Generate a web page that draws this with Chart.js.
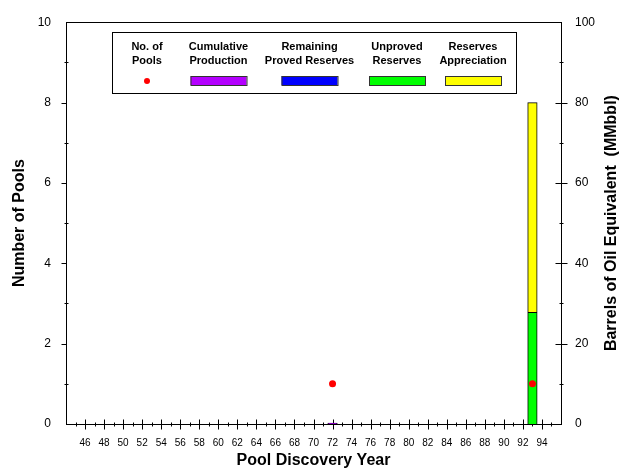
<!DOCTYPE html>
<html>
<head>
<meta charset="utf-8">
<script src="https://cdn.jsdelivr.net/npm/chart.js@4/dist/chart.umd.min.js"></script>
<style>
  html, body { margin: 0; padding: 0; background: #fff; }
  #wrap { width: 619px; height: 469px; }
</style>
</head>
<body>
<div id="wrap"><canvas id="myChart" width="619" height="469"></canvas></div>
<script>
// discovery years that have something in them
const years = [72, 93];
// number of pools (left axis)
const pools = [1, 1];
// MMbbl, stacked (right axis)
const cumulativeProduction = [0.2, null];
const remainingProved = [null, null];
const unprovedReserves = [null, 27.8];
const reservesAppreciation = [null, 52.2];

const xTickLabels = [46, 48, 50, 52, 54, 56, 58, 60, 62, 64, 66, 68, 70, 72, 74, 76, 78, 80, 82, 84, 86, 88, 90, 92, 94];
const leftTickLabels = [0, 2, 4, 6, 8, 10];
const rightTickLabels = [0, 20, 40, 60, 80, 100];

const FONT = "'Liberation Sans', Arial, sans-serif";
const toPoints = arr => years.map((yr, i) => ({ x: yr, y: arr[i] }));

// frame + tick marks that cross the axis lines
const framePlugin = {
  id: "frame",
  beforeDatasetsDraw(chart) {
    const { ctx, chartArea: a, scales } = chart;
    ctx.save();
    ctx.strokeStyle = "#000";
    ctx.lineWidth = 1;
    ctx.strokeRect(Math.round(a.left) + 0.5, Math.round(a.top) + 0.5,
      Math.round(a.right - a.left), Math.round(a.bottom - a.top));
    ctx.beginPath();
    const by = Math.round(a.bottom) + 0.5;
    for (let yr = 45; yr <= 95; yr++) {
      const px = Math.round(scales.x.getPixelForValue(yr)) + 0.5;
      const len = yr % 2 === 0 ? 5 : 2;
      ctx.moveTo(px, by - len);
      ctx.lineTo(px, by + len);
    }
    const lx = Math.round(a.left) + 0.5;
    for (let v = 1; v < 10; v++) {
      const py = Math.round(scales.y.getPixelForValue(v)) + 0.5;
      if (v % 2 === 0) { ctx.moveTo(lx - 5, py); ctx.lineTo(lx, py); }
      else { ctx.moveTo(lx - 2, py); ctx.lineTo(lx + 2, py); }
    }
    const rx = Math.round(a.right) + 0.5;
    for (let v = 10; v < 100; v += 10) {
      const py = Math.round(scales.y1.getPixelForValue(v)) + 0.5;
      const len = v % 20 === 0 ? 6 : 2;
      ctx.moveTo(rx - len, py);
      ctx.lineTo(rx + len, py);
    }
    ctx.stroke();
    ctx.restore();
  },
  // right axis title reads bottom-to-top in the original
  afterDraw(chart) {
    const { ctx, chartArea: a } = chart;
    const t = chart.options.scales.y1.title;
    ctx.save();
    ctx.translate(612, (a.top + a.bottom) / 2);
    ctx.rotate(-Math.PI / 2);
    ctx.font = "bold 16px " + FONT;
    ctx.fillStyle = "#000";
    ctx.textAlign = "center";
    ctx.textBaseline = "middle";
    ctx.fillText(t.text, 0, 0);
    ctx.restore();
  }
};

// boxed legend with two-line labels
const legendPlugin = {
  id: "boxLegend",
  afterDraw(chart) {
    const ctx = chart.ctx;
    const centers = [147, 218.5, 309.5, 397, 473];
    ctx.save();
    ctx.fillStyle = "#fff";
    ctx.fillRect(112.5, 32.5, 404, 61);
    ctx.strokeStyle = "#000";
    ctx.lineWidth = 1;
    ctx.strokeRect(112.5, 32.5, 404, 61);
    ctx.font = "bold 11px " + FONT;
    ctx.textAlign = "center";
    ctx.textBaseline = "middle";
    chart.data.datasets.forEach((ds, i) => {
      const cx = centers[i];
      ctx.fillStyle = "#000";
      ds.label.forEach((line, j) => ctx.fillText(line, cx, 47 + j * 14));
      if (ds.type === "line") {
        ctx.fillStyle = ds.pointBackgroundColor;
        ctx.beginPath();
        ctx.arc(cx, 81, 3, 0, Math.PI * 2);
        ctx.fill();
      } else {
        ctx.fillStyle = ds.backgroundColor;
        ctx.fillRect(cx - 28, 76, 56, 9);
        ctx.strokeStyle = "#333";
        ctx.strokeRect(cx - 28 + 0.5, 76.5, 56, 9);
      }
    });
    ctx.restore();
  }
};

const barDs = (label, data, color) => ({
  type: "bar",
  label: label,
  data: toPoints(data),
  yAxisID: "y1",
  backgroundColor: color,
  borderColor: "#000",
  borderWidth: 1,
  barThickness: 9.5,
  order: 1
});

let ctx = document.getElementById("myChart");
let myChart = new Chart(ctx, {
  data: {
    datasets: [
      {
        type: "line",
        label: ["No. of", "Pools"],
        data: toPoints(pools),
        yAxisID: "y",
        showLine: false,
        pointRadius: 3.5,
        pointBackgroundColor: "#ff0000",
        pointBorderColor: "#ff0000",
        pointBorderWidth: 0,
        order: 0
      },
      barDs(["Cumulative", "Production"], cumulativeProduction, "#b400ff"),
      barDs(["Remaining", "Proved Reserves"], remainingProved, "#0000ff"),
      barDs(["Unproved", "Reserves"], unprovedReserves, "#00ff00"),
      barDs(["Reserves", "Appreciation"], reservesAppreciation, "#ffff00")
    ]
  },
  options: {
    responsive: false,
    animation: false,
    layout: { padding: { top: 17, left: 0, right: 0, bottom: 0 } },
    plugins: { legend: { display: false }, tooltip: { enabled: false } },
    scales: {
      x: {
        type: "linear",
        min: 44,
        max: 96,
        offset: false,
        stacked: true,
        grid: { display: false, drawTicks: false },
        border: { display: false },
        afterBuildTicks: s => { s.ticks = xTickLabels.map(v => ({ value: v })); },
        afterFit: s => { s.height = 45; },
        ticks: {
          autoSkip: false,
          maxRotation: 0,
          padding: 13,
          color: "#000",
          font: { family: FONT, size: 10 }
        },
        title: {
          display: true,
          text: "Pool Discovery Year",
          color: "#000",
          padding: 0,
          font: { family: FONT, size: 16, weight: "bold", lineHeight: 1 }
        }
      },
      y: {
        position: "left",
        min: 0,
        max: 10,
        grid: { display: false, drawTicks: false },
        border: { display: false },
        afterBuildTicks: s => { s.ticks = leftTickLabels.map(v => ({ value: v })); },
        afterFit: s => { s.width = 66; },
        ticks: {
          padding: 15,
          color: "#000",
          font: { family: FONT, size: 12 }
        },
        title: {
          display: true,
          text: "Number of Pools",
          color: "#000",
          padding: { top: 12, bottom: 0 },
          font: { family: FONT, size: 16, weight: "bold", lineHeight: 1 }
        }
      },
      y1: {
        position: "right",
        min: 0,
        max: 100,
        stacked: true,
        grid: { display: false, drawTicks: false },
        border: { display: false },
        afterBuildTicks: s => { s.ticks = rightTickLabels.map(v => ({ value: v })); },
        afterFit: s => { s.width = 58; },
        ticks: {
          padding: 14,
          color: "#000",
          font: { family: FONT, size: 12 }
        },
        title: {
          display: false,
          text: "Barrels of Oil Equivalent  (MMbbl)"
        }
      }
    }
  },
  plugins: [framePlugin, legendPlugin]
});
</script>
</body>
</html>
